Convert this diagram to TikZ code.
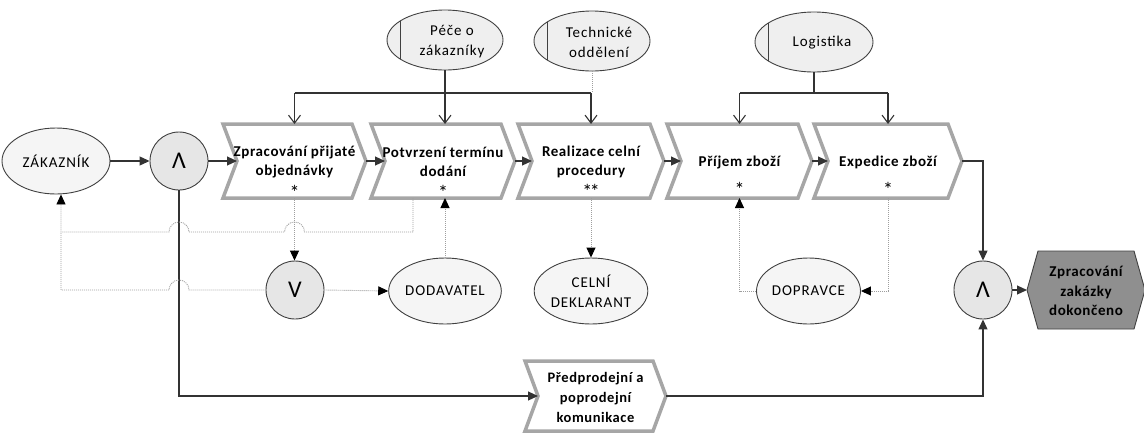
\documentclass[tikz,border=0pt]{standalone}
\usepackage{fontspec}
\setmainfont{Carlito}
\newfontfamily\procfont{Carlito}[LetterSpace=4]
\newfontfamily\labfont{Carlito}[LetterSpace=6]
\usetikzlibrary{arrows.meta,shapes.geometric}

\definecolor{procgray}{HTML}{A6A6A6}
\definecolor{edgec}{HTML}{404040}
\definecolor{actfill}{HTML}{F5F5F5}
\definecolor{orgfill}{HTML}{EFEFEF}
\definecolor{gatefill}{HTML}{E6E6E6}
\definecolor{hexfill}{HTML}{8F8F8F}
\definecolor{flowc}{HTML}{333333}
\definecolor{infoc}{HTML}{9E9E9E}

% process function: name, centre x, centre y, half width, half height, notch depth
\newcommand\procshape[6]{%
  \node[procbox, minimum width={2*#4pt}, minimum height={2*#5pt}] (#1) at (#2,#3) {};
  \draw[procline] ({#2-#4},{#3-#5}) -- ({#2+#4-#6},{#3-#5}) -- ({#2+#4},#3)
    -- ({#2+#4-#6},{#3+#5}) -- ({#2-#4},{#3+#5}) -- ({#2-#4+#6},#3) -- cycle;
  \coordinate (#1in) at ({#2-#4+#6},#3);
}

\begin{document}
\begin{tikzpicture}[x=1pt, y=-1pt,
  procbox/.style={rectangle, inner sep=0pt, outer sep=0pt},
  procline/.style={draw=procgray, line width=3.5pt, fill=white, line join=miter},
  proctext/.style={font=\procfont\bfseries\fontsize{15pt}{19pt}\selectfont, align=center, inner sep=0pt},
  startext/.style={font=\fontsize{20pt}{20pt}\selectfont, inner sep=0pt},
  gate/.style={circle, draw=edgec, line width=0.9pt, fill=gatefill, minimum size=58pt, inner sep=0pt,
    font=\fontsize{24pt}{24pt}\selectfont},
  actor/.style={ellipse, draw=edgec, line width=0.9pt, fill=actfill, inner sep=0pt, align=center,
    font=\labfont\fontsize{15pt}{20pt}\selectfont},
  orgunit/.style={ellipse, draw=edgec, line width=0.9pt, fill=orgfill, inner sep=0pt,
    path picture={\draw[edgec, line width=0.9pt]
      ([xshift=13pt]path picture bounding box.north west) --
      ([xshift=13pt]path picture bounding box.south west);}},
  orgtext/.style={font=\labfont\fontsize{15pt}{20pt}\selectfont, align=center, inner sep=0pt},
  flow/.style={draw=flowc, line width=1.1pt, -{Triangle[length=10pt,width=9pt]}},
  orgline/.style={draw=flowc, line width=1.1pt},
  orgarrow/.style={draw=flowc, line width=1.1pt, -{Straight Barb[length=8pt,width=12pt]}},
  info/.style={draw=infoc, line width=0.9pt, dash pattern=on 1pt off 1pt},
  infotip/.style={-{Triangle[length=10pt,width=9pt,color=black]}},
  hexline/.style={draw=edgec, line width=0.9pt, fill=hexfill},
  hextext/.style={font=\procfont\bfseries\fontsize{15pt}{19.5pt}\selectfont, align=center, inner sep=0pt}
]
\useasboundingbox (0,0) rectangle (1144,432);

% horizontal levels of the organisational links and of the information links
\coordinate (bus) at (0,93);
\coordinate (ubus) at (0,232);

% process functions
\procshape{pa}{294.5}{161}{71.5}{37}{14}
\procshape{pb}{443}{161}{72}{37}{14}
\procshape{pc}{591}{161}{73}{37}{14}
\procshape{pd}{739.5}{161}{72.5}{37}{14}
\procshape{pe}{888}{161}{74}{37}{14}
\procshape{pf}{595.5}{396}{70.5}{35}{13}

\node[proctext] (pat) at ([yshift=-1pt]pa.center) {Zpracování přijaté\\objednávky};
\node[startext] (pas) at ([yshift=-31pt]pa.center) {*};
\node[proctext] (pbt) at ([yshift=-1pt]pb.center) {Potvrzení termínu\\dodání};
\node[startext] (pbs) at ([yshift=-31pt]pb.center) {*};
\node[proctext] (pct) at ([yshift=-1pt]pc.center) {Realizace celní\\procedury};
\node[startext] (pcs) at ([yshift=-30pt]pc.center) {*\kern-2.5pt*};
\node[proctext] (pdt) at ([yshift=-1pt]pd.center) {Příjem zboží};
\node[startext] (pds) at ([yshift=-28pt]pd.center) {*};
\node[proctext] (pet) at ([yshift=-1pt]pe.center) {Expedice zboží};
\node[startext] (pes) at ([yshift=-28pt]pe.center) {*};
\node[proctext, font=\procfont\bfseries\fontsize{14.5pt}{20pt}\selectfont] (pft) at ([yshift=-1pt]pf.center)
  {Předprodejní a\\poprodejní\\komunikace};

% rule connectors
\node[gate] (g1) at (179,161) {Λ};
\node[gate] (g2) at (295,290) {V};
\node[gate] (g3) at (983,290) {Λ};

% external parties
\node[actor, minimum width=108pt, minimum height=66pt] (zak) at (56,161) {ZÁKAZNÍK};
\node[actor, minimum width=100pt, minimum height=66pt] (dod) at (445,291) {DODAVATEL};
\node[actor, minimum width=98pt, minimum height=66pt] (cel) at (591,291) {CELNÍ\\DEKLARANT};
\node[actor, minimum width=104pt, minimum height=66pt] (dop) at (808.5,291) {DOPRAVCE};

% organisational units
\node[orgunit, minimum width=116pt, minimum height=60pt] (ou1) at (445,40) {};
\node[orgtext] (ou1t) at (452,42) {Péče o\\zákazníky};
\node[orgunit, minimum width=116pt, minimum height=60pt] (ou2) at (592,41) {};
\node[orgtext] (ou2t) at (599,42) {Technické\\oddělení};
\node[orgunit, minimum width=118pt, minimum height=60pt] (ou3) at (814,42) {};
\node[orgtext] (ou3t) at (822,43) {Logistika};

% end event
\node[procbox, minimum width=118pt, minimum height=78pt] (done) at (1086,290) {};
\draw[hexline] (done.west) -- ([xshift=11pt]done.north west) -- ([xshift=-11pt]done.north east)
  -- (done.east) -- ([xshift=-11pt]done.south east) -- ([xshift=11pt]done.south west) -- cycle;
\node[hextext] (donet) at ([yshift=-1pt]done.center) {Zpracování\\zakázky\\dokončeno};

% organisational assignments
\draw[orgline] (ou1.south) -- (ou1.south |- bus);
\draw[orgline] (pa.north |- bus) -- (pc.north |- bus);
\draw[orgarrow] (pa.north |- bus) -- (pa.north);
\draw[orgarrow] (ou1.south |- bus) -- (ou1.south |- pb.north);
\draw[orgarrow] (pc.north |- bus) -- (pc.north);
\draw[info] (ou2.south) -- (ou2.south |- bus);
\draw[orgline] (ou3.south) -- (ou3.south |- bus);
\draw[orgline] (pd.north |- bus) -- (pe.north |- bus);
\draw[orgarrow] (pd.north |- bus) -- (pd.north);
\draw[orgarrow] (pe.north |- bus) -- (pe.north);

% control flow
\draw[flow] (zak.east) -- (g1.west);
\draw[flow] (g1.east) -- (pain);
\draw[flow] (pa.east) -- (pbin);
\draw[flow] (pb.east) -- (pcin);
\draw[flow] (pc.east) -- (pdin);
\draw[flow] (pd.east) -- (pein);
\draw[flow] (pe.east) -| (g3.north);
\draw[flow] (g3.east) -- (done.west);
\draw[flow] (g1.south) |- (pfin);
\draw[flow] (pf.east) -| (g3.south);

% information links
\draw[info, infotip] ([xshift=-30pt]pb.south) |- ([xshift=10pt]pa.south |- ubus)
  arc[start angle=0, end angle=180, radius=10pt] -- ([xshift=10pt]g1.south |- ubus)
  arc[start angle=0, end angle=180, radius=10pt] -- ([xshift=5pt]zak.south |- ubus)
  -- ([xshift=5pt]zak.south);
\draw[info] (g2.west) -- ([xshift=10pt]g1.south |- g2.west)
  arc[start angle=0, end angle=180, radius=10pt] -- ([xshift=5pt]zak.south |- g2.west)
  -- ([xshift=5pt]zak.south |- ubus);
\draw[info, infotip] (pa.south) -- (pa.south |- g2.north);
\draw[info, infotip] (g2.east) -- (dod.west);
\draw[info, infotip] (dod.north) -- (dod.north |- pb.south);
\draw[info, infotip] (pc.south) -- (pc.south |- cel.north);
\draw[info, infotip] (pe.south) |- (dop.east);
\draw[info, infotip] (dop.west) -| (pd.south);
\end{tikzpicture}
\end{document}
